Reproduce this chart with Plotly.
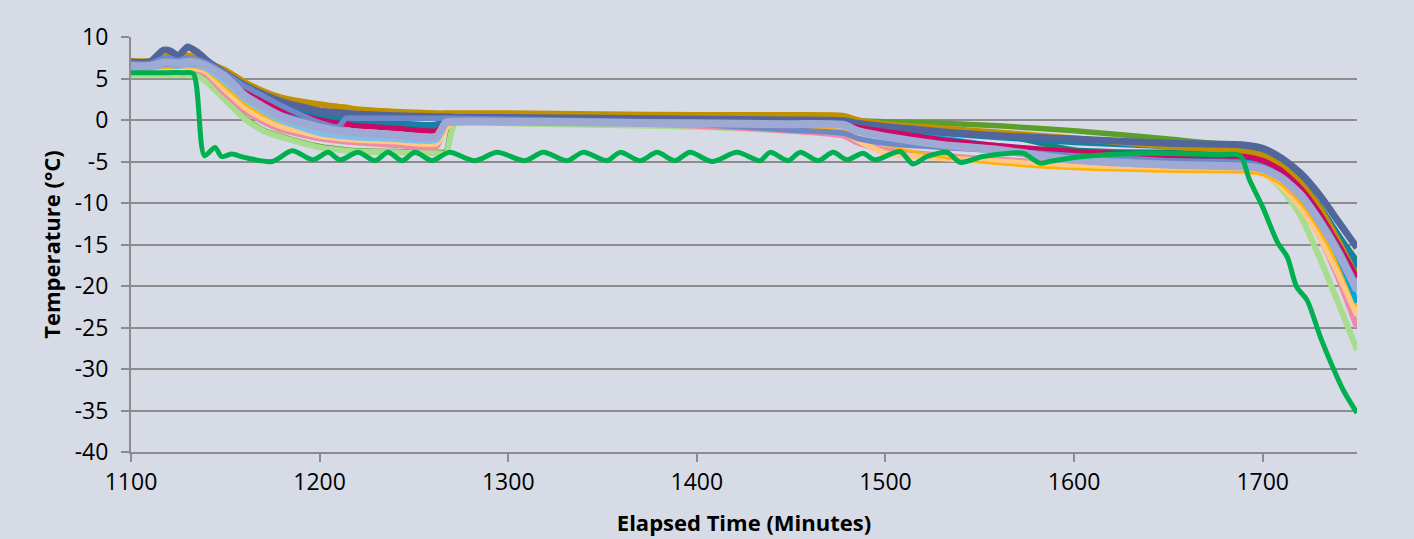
import plotly.graph_objects as go

# Shared time grid (minutes) for the smooth probe series
time_min = [1100, 1110, 1117, 1121, 1125, 1130, 1135, 1140, 1150, 1160, 1170, 1180,
            1200, 1210, 1214, 1220, 1240, 1262, 1267, 1272, 1300, 1350, 1400, 1450,
            1478, 1485, 1500, 1530, 1560, 1600, 1650, 1690, 1700, 1710, 1720, 1730,
            1740, 1750]

olive = [5.5, 5.5, 5.5, 5.5, 5.5, 5.5, 5.4, 4.7, 2.5, 0.3, -1.2, -2.0,
         -3.2, -3.5, -3.6, -3.7, -3.8, -3.9, -3.8, 0.3, 0.4, 0.3, 0.2, 0.2,
         0.1, -0.1, -0.2, -0.4, -0.7, -1.3, -2.3, -3.2, -3.8, -5.2, -7.3, -10.4,
         -14.0, -18.0]
light_green = [5.4, 5.4, 5.4, 5.4, 5.4, 5.4, 5.3, 4.6, 2.4, 0.2, -1.3, -2.1,
               -3.3, -3.6, -3.7, -3.8, -3.9, -4.0, -4.0, -0.3, -0.4, -0.6, -0.8, -1.3,
               -1.8, -2.6, -3.6, -4.3, -4.8, -5.3, -5.6, -5.8, -6.3, -8.3, -11.5, -16.5,
               -22.0, -27.7]
pink = [6.0, 6.0, 6.0, 6.0, 6.0, 6.1, 6.0, 5.5, 3.2, 1.2, -0.2, -1.2,
        -2.2, -2.5, -2.6, -2.7, -3.0, -3.2, 0.2, 0.1, 0.0, -0.3, -0.7, -1.3,
        -1.9, -2.7, -3.6, -4.3, -4.8, -5.3, -5.6, -5.7, -6.0, -7.6, -10.2, -14.0,
        -19.0, -25.0]
light_orange = [6.1, 6.1, 6.2, 6.2, 6.2, 6.3, 6.2, 5.8, 3.6, 1.6, 0.2, -0.8,
                -1.9, -2.2, -2.3, -2.4, -2.6, -2.8, -1.0, 0.0, 0.0, -0.2, -0.5, -1.0,
                -1.5, -2.4, -4.0, -4.6, -5.0, -5.6, -6.0, -6.2, -6.5, -8.0, -10.5, -14.0,
                -18.5, -23.5]
amber = [6.2, 6.2, 6.3, 6.3, 6.3, 6.4, 6.3, 5.9, 4.0, 2.0, 0.6, -0.4,
         -1.5, -1.8, -1.9, -2.0, -2.2, -2.4, -0.2, 0.1, 0.1, 0.0, -0.3, -0.8,
         -1.3, -2.0, -3.0, -4.5, -5.3, -5.9, -6.2, -6.3, -6.6, -7.8, -10.0, -13.3,
         -17.5, -22.5]
light_blue = [6.3, 6.3, 6.6, 6.6, 6.5, 6.7, 6.6, 6.2, 4.6, 2.6, 1.1, -0.1,
              -1.6, -1.9, -2.0, -2.1, -2.3, -2.4, -0.2, -0.1, -0.1, -0.2, -0.3, -0.4,
              -0.5, -1.1, -1.8, -2.6, -3.2, -4.2, -4.9, -5.2, -5.6, -6.9, -9.0, -12.3,
              -16.2, -21.0]
cyan = [6.4, 6.4, 6.7, 6.7, 6.6, 6.8, 6.7, 6.4, 5.0, 3.3, 2.0, 0.9,
        -0.8, -1.1, -1.2, -1.4, -1.7, -1.9, 0.0, 0.2, 0.2, 0.2, 0.1, 0.1,
        0.0, -0.6, -1.5, -2.2, -3.1, -3.8, -4.3, -4.6, -5.0, -6.4, -8.7, -12.0,
        -16.5, -22.0]
teal = [6.6, 6.6, 6.9, 6.9, 6.8, 7.0, 6.9, 6.6, 5.4, 3.8, 2.6, 1.6,
        0.4, 0.0, -0.1, -0.3, -0.6, -0.8, 0.4, 0.5, 0.4, 0.3, 0.2, 0.1,
        0.0, -0.4, -0.7, -1.1, -1.7, -3.6, -3.9, -4.0, -4.4, -5.6, -7.6, -10.6,
        -13.8, -17.0]
steel_blue = [6.7, 6.7, 7.0, 7.0, 6.9, 7.1, 7.0, 6.7, 5.5, 4.0, 2.8, 1.8,
              0.6, 0.3, 0.2, 0.0, -0.3, -0.5, 0.4, 0.4, 0.4, 0.3, 0.2, 0.1,
              0.0, -0.5, -1.0, -1.6, -2.1, -2.7, -3.2, -3.5, -4.0, -5.3, -7.3, -10.3,
              -13.8, -17.7]
gold = [7.1, 7.1, 7.6, 7.6, 7.5, 7.8, 7.5, 7.0, 6.0, 4.6, 3.5, 2.7,
        1.9, 1.6, 1.5, 1.3, 1.0, 0.8, 0.8, 0.8, 0.8, 0.7, 0.6, 0.6,
        0.5, 0.0, -0.5, -1.0, -1.5, -2.2, -3.2, -3.8, -4.3, -5.5, -7.5, -10.5,
        -14.5, -19.0]
slate = [7.0, 7.0, 8.4, 8.3, 7.7, 8.8, 8.2, 7.2, 5.6, 4.2, 3.1, 2.2,
         1.1, 0.9, 0.8, 0.7, 0.5, 0.4, 0.4, 0.3, 0.3, 0.2, 0.1, 0.0,
         -0.1, -0.4, -0.8, -1.4, -1.9, -2.3, -2.8, -3.0, -3.4, -4.6, -6.4, -9.0,
         -12.2, -15.4]
crimson = [6.6, 6.6, 6.8, 6.8, 6.8, 7.0, 6.9, 6.5, 5.3, 3.5, 2.3, 1.3,
           0.0, -0.4, -0.5, -0.7, -1.0, -1.3, -0.3, -0.2, -0.2, -0.3, -0.4, -0.5,
           -0.6, -0.9, -1.4, -2.4, -3.1, -3.8, -4.3, -4.4, -4.9, -6.1, -8.2, -11.2,
           -15.0, -19.0]
periwinkle = [6.8, 6.8, 7.4, 7.4, 7.2, 7.5, 7.3, 6.9, 5.6, 4.1, 2.9, 1.7,
              -0.3, -0.8, 0.2, 0.2, 0.2, 0.2, 0.2, 0.2, 0.1, -0.1, -0.5, -1.2,
              -1.6, -2.2, -2.8, -3.3, -3.7, -4.3, -4.9, -5.2, -5.6, -6.8, -8.8, -11.8,
              -15.5, -20.0]
lavender = [6.5, 6.5, 6.9, 6.9, 6.8, 7.0, 6.9, 6.5, 5.2, 3.0, 1.6, 0.4,
            -0.9, -1.3, -1.4, -1.5, -1.8, -2.0, -0.3, -0.2, -0.2, -0.3, -0.4, -0.5,
            -0.6, -1.3, -2.0, -3.0, -3.6, -4.8, -5.4, -5.6, -5.9, -7.0, -9.0, -12.2,
            -16.0, -20.5]

# Bright green probe (own time points)
green_time = [1100, 1115, 1128, 1133, 1139, 1144.5, 1148, 1153.5, 1160, 1175, 1185.4, 1196.5,
              1204.5, 1210.8, 1220.4, 1229.4, 1236.3, 1243.7, 1250.6, 1259.6, 1268.6,
              1282.4, 1294.1, 1308.9, 1318.5, 1331.2, 1339.7, 1352.4, 1359.3, 1369.9,
              1378.9, 1388.4, 1396.4, 1408.1, 1421.3, 1433.5, 1438.8, 1448.4, 1454.7,
              1464.3, 1472.2, 1479.6, 1488, 1494.5, 1507.7, 1514.6, 1522, 1532.7,
              1539.6, 1551.7, 1566, 1573, 1582, 1587, 1605, 1640, 1676, 1688, 1693,
              1700, 1708, 1713, 1718, 1723.5, 1730.5, 1737, 1742.6, 1750]
green_temp = [5.7, 5.7, 5.7, 5.6, -4.3, -3.3, -4.4, -4.1, -4.5, -5.0, -3.7, -4.8,
              -3.9, -4.8, -3.9, -4.9, -3.9, -4.9, -3.9, -4.9, -3.9,
              -4.9, -3.9, -4.9, -3.9, -4.9, -3.9, -4.9, -3.9, -4.9,
              -3.9, -4.9, -3.9, -5.0, -3.9, -4.9, -3.9, -4.9, -3.9,
              -4.9, -3.9, -4.8, -4.0, -4.8, -3.8, -5.3, -4.4, -3.9,
              -5.1, -4.4, -4.0, -4.0, -5.2, -5.0, -4.4, -4.0, -4.2, -4.3, -7.2,
              -10.5, -14.8, -16.5, -20.1, -21.7, -26.1, -29.7, -32.5, -35.3]

x_ticks = [1100, 1200, 1300, 1400, 1500, 1600, 1700]
y_ticks = [10, 5, 0, -5, -10, -15, -20, -25, -30, -35, -40]
y_tick_text = ["10", "5", "0", "-5", "-10", "-15", "-20", "-25", "-30", "-35", "-40"]

series = [
    ("olive", olive, "#5C9E2B", 5.5),
    ("light green", light_green, "#A8DC8E", 6),
    ("pink", pink, "#EE8BA6", 6),
    ("light orange", light_orange, "#FFC984", 6),
    ("amber", amber, "#FFB200", 2.5),
    ("light blue", light_blue, "#80C0E8", 6),
    ("cyan", cyan, "#00A7DD", 5),
    ("teal", teal, "#178575", 5.5),
    ("steel blue", steel_blue, "#167FA8", 5.5),
    ("gold", gold, "#C09000", 6),
    ("slate", slate, "#52669B", 7),
    ("crimson", crimson, "#CC0A66", 5.5),
    ("periwinkle", periwinkle, "#6F88C7", 5.5),
    ("lavender", lavender, "#9EA9D4", 8),
]

fig = go.Figure()
for name, vals, color, w in series:
    fig.add_trace(go.Scatter(x=time_min, y=vals, mode="lines", name=name,
                             line=dict(color=color, width=w, shape="spline", smoothing=0.6)))
fig.add_trace(go.Scatter(x=green_time, y=green_temp, mode="lines", name="green",
                         line=dict(color="#00B050", width=5, shape="spline", smoothing=0.8)))

bg = "#D7DBE5"
grid = "#8C8C8C"
font_family = "Open Sans, Liberation Sans, sans-serif"
fig.update_layout(
    width=1414, height=539,
    paper_bgcolor=bg, plot_bgcolor=bg,
    margin=dict(l=131, r=57, t=37, b=87, autoexpand=False),
    showlegend=False,
    font=dict(family=font_family, size=23, color="#000000"),
)
fig.update_xaxes(
    range=[1100, 1750], tickvals=x_ticks, automargin=False,
    showgrid=False, zeroline=False, showline=True, linecolor=grid, linewidth=2,
    ticks="outside", ticklen=8, tickwidth=2, tickcolor=grid,
    tickfont=dict(size=23),
    title=dict(text="<b>Elapsed Time (Minutes)</b>", font=dict(size=22), standoff=20),
)
fig.update_yaxes(
    range=[-40, 10], tickvals=y_ticks, ticktext=y_tick_text, automargin=False,
    showgrid=True, gridcolor=grid, gridwidth=2, zeroline=False,
    showline=True, linecolor=grid, linewidth=2,
    ticks="outside", ticklen=8, tickwidth=2, tickcolor=grid,
    ticklabelstandoff=8,
    tickfont=dict(size=23),
    title=dict(text="<b>Temperature (°C)</b>", font=dict(size=22), standoff=8),
)
fig.write_html("out.html")
